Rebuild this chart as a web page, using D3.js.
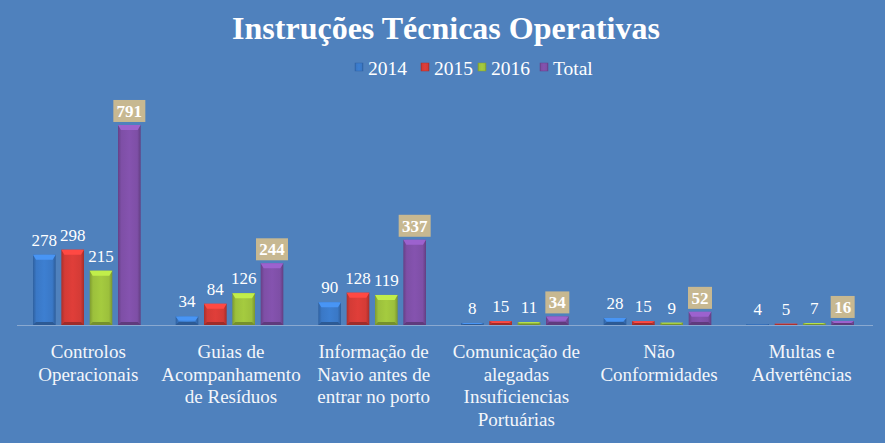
<!DOCTYPE html>
<html><head><meta charset="utf-8">
<script src="https://cdn.jsdelivr.net/npm/d3@7"></script>
<style>html,body{margin:0;padding:0;background:#4f81bd;}svg{display:block;}</style>
</head><body>
<script>
const categories = [
  ["Controlos","Operacionais"],
  ["Guias de","Acompanhamento","de Resíduos"],
  ["Informação de","Navio antes de","entrar no porto"],
  ["Comunicação de","alegadas","Insuficiencias","Portuárias"],
  ["Não","Conformidades"],
  ["Multas e","Advertências"]
];
const seriesNames = ["2014","2015","2016","Total"];
const v2014 = [278, 34, 90, 8, 28, 4];
const v2015 = [298, 84, 128, 15, 15, 5];
const v2016 = [215, 126, 119, 11, 9, 7];
const vTotal = [791, 244, 337, 34, 52, 16];
const seriesValues = [v2014, v2015, v2016, vTotal];
const colors = ["#3a78c6", "#d43b36", "#9cc03c", "#7e4fa6"];
const titleText = "Instruções Técnicas Operativas";
const FONT = "'Liberation Serif', 'Times New Roman', serif";

const W = 885, H = 443;
const svg = d3.select("body").append("svg").attr("width", W).attr("height", H);
svg.append("rect").attr("width", W).attr("height", H).attr("fill", "#4f81bd");

const defs = svg.append("defs");
colors.forEach((c, i) => {
  const g = defs.append("linearGradient").attr("id", "g" + i).attr("x1", 0).attr("x2", 1).attr("y1", 0).attr("y2", 0);
  const base = d3.color(c);
  g.append("stop").attr("offset", 0).attr("stop-color", base.darker(0.6));
  g.append("stop").attr("offset", 0.15).attr("stop-color", base);
  g.append("stop").attr("offset", 0.5).attr("stop-color", base.brighter(0.15));
  g.append("stop").attr("offset", 0.85).attr("stop-color", base);
  g.append("stop").attr("offset", 1).attr("stop-color", base.darker(0.7));
});

const x0 = d3.scaleBand().domain(d3.range(categories.length)).range([17, 873]).paddingInner(0).paddingOuter(0);
const x1 = d3.scaleBand().domain(d3.range(seriesNames.length)).range([16, x0.bandwidth() - 19]).paddingInner(0.2);
const y = d3.scaleLinear().domain([0, 800]).range([325, 122.7]);

// baseline
svg.append("line").attr("x1", 17).attr("x2", 873).attr("y1", 325.5).attr("y2", 325.5)
  .attr("stroke", "#8aa9d0").attr("stroke-width", 1);

// title
svg.append("text").attr("x", 446).attr("y", 39).attr("text-anchor", "middle")
  .attr("font-family", FONT).attr("font-weight", "bold").attr("font-size", 32)
  .attr("fill", "#ffffff").text(titleText);

// legend
const legendX = [355, 421, 478, 540];
seriesNames.forEach((s, i) => {
  const g = svg.append("g").attr("transform", `translate(${legendX[i]},0)`);
  g.append("rect").attr("x", 0).attr("y", 63).attr("width", 8).attr("height", 8)
    .attr("fill", `url(#g${i})`).attr("stroke", d3.color(colors[i]).darker(0.5)).attr("stroke-width", 0.5);
  g.append("text").attr("x", 13).attr("y", 74.5).attr("font-family", FONT)
    .attr("font-size", 19.5).attr("fill", "#ffffff").text(s);
});

// bars
const groups = svg.selectAll("g.grp").data(categories).enter().append("g")
  .attr("transform", (d, i) => `translate(${x0(i)},0)`);

groups.each(function(cat, ci) {
  const g = d3.select(this);
  seriesValues.forEach((vals, si) => {
    const v = vals[ci];
    const bx = x1(si), bw = x1.bandwidth();
    const top = y(v), h = y(0) - y(v);
    const base = d3.color(colors[si]);
    g.append("rect").attr("x", bx).attr("y", top).attr("width", bw).attr("height", Math.max(h, 0))
      .attr("fill", `url(#g${si})`);
    const bev = Math.min(5, h / 2);
    if (h > 1) {
      g.append("path").attr("d", `M${bx},${top}L${bx + bw},${top}L${bx + bw - 3},${top + bev}L${bx + 3},${top + bev}Z`)
        .attr("fill", base.brighter(0.6));
      g.append("path").attr("d", `M${bx},${top + h}L${bx + bw},${top + h}L${bx + bw - 3},${top + h - Math.min(3, bev)}L${bx + 3},${top + h - Math.min(3, bev)}Z`)
        .attr("fill", base.darker(0.8));
    }
    const cx = bx + bw / 2;
    if (si === 3) {
      const txt = String(v);
      const bwid = txt.length * 8 + 8;
      g.append("rect").attr("x", cx - bwid / 2).attr("y", top - 25).attr("width", bwid).attr("height", 22)
        .attr("fill", "#c7b891");
      g.append("text").attr("x", cx).attr("y", top - 8).attr("text-anchor", "middle")
        .attr("font-family", FONT).attr("font-weight", "bold").attr("font-size", 17)
        .attr("fill", "#ffffff").text(txt);
    } else {
      g.append("text").attr("x", cx).attr("y", top - 9).attr("text-anchor", "middle")
        .attr("font-family", FONT).attr("font-size", 17)
        .attr("fill", "#ffffff").text(v);
    }
  });
  // category label
  const t = g.append("text").attr("x", x0.bandwidth() / 2).attr("y", 358).attr("text-anchor", "middle")
    .attr("font-family", FONT).attr("font-size", 19).attr("fill", "#f4f6fa");
  cat.forEach((line, li) => {
    t.append("tspan").attr("x", x0.bandwidth() / 2).attr("y", 358 + li * 22.5).text(line);
  });
});
</script>
</body></html>
